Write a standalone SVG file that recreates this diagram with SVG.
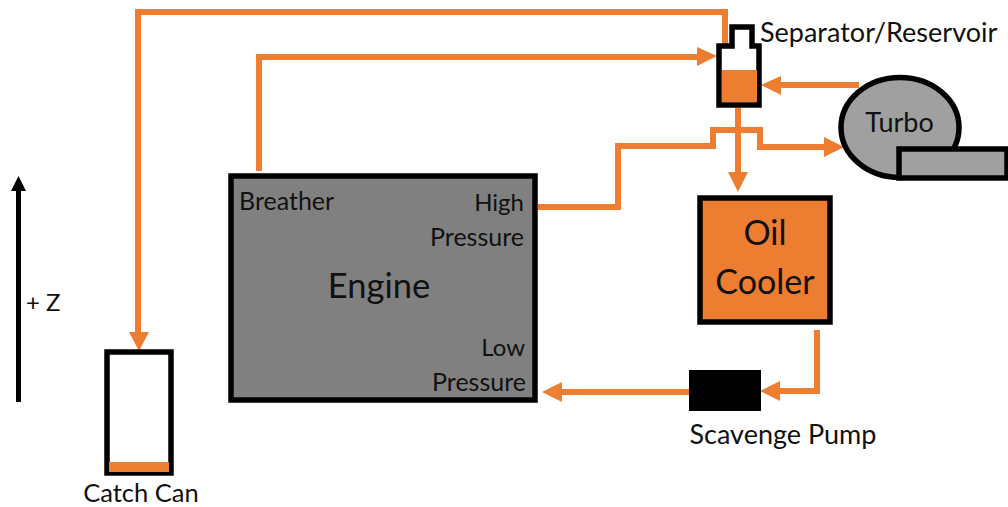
<svg xmlns="http://www.w3.org/2000/svg" width="1008" height="507" viewBox="0 0 1008 507">
<style>
text{font-family:Lato,"Open Sans",sans-serif;fill:#111}
.s{font-size:25px}
.n{font-size:24px}
.m{font-size:27px}
.c{fill:none;stroke:#ed7d31;stroke-width:6}
.h{fill:#ed7d31}
.b{stroke:#000;stroke-width:5.5}
</style>
<rect width="1008" height="507" fill="#fff"/>
<g id="connectors">
<path class="c" d="M725 44V12H138V333"/><polygon class="h" points="129,332 149,332 139,351"/>
<path class="c" d="M259 171V57H698"/><polygon class="h" points="697,47 717,56 697,66"/>
<path class="c" d="M859 85H780"/><polygon class="h" points="781,76 761,85 781,95"/>
<path class="c" d="M538 207H618V146H713V130H760V147H826"/><polygon class="h" points="824,137 844,147 824,157"/>
<path class="c" d="M738 108V174"/><polygon class="h" points="728,172 748,172 738,192"/>
<path class="c" d="M817 330V391H778"/><polygon class="h" points="780,381 760,391 780,401"/>
<path class="c" d="M689 392H560"/><polygon class="h" points="562,382 542,392 562,402"/>
</g>
<g id="separator">
<path d="M719 46H732V27H752V46H759V105H719Z" fill="#fff" class="b"/>
<rect x="722" y="70" width="35" height="32" class="h"/>
<text class="m" x="760" y="42">Separator/Reservoir</text>
</g>
<g id="turbo">
<ellipse cx="900" cy="127.500" rx="59" ry="50" fill="#a0a0a0" class="b"/>
<rect x="899" y="149" width="108" height="29" fill="#a0a0a0" class="b"/>
<text class="m" x="899.500" y="132" text-anchor="middle">Turbo</text>
</g>
<g id="oil-cooler">
<rect x="700" y="198" width="130" height="124" class="h b"/>
<text x="765" y="245" font-size="34" text-anchor="middle">Oil</text>
<text x="765" y="294" font-size="34" text-anchor="middle">Cooler</text>
</g>
<g id="scavenge-pump">
<rect x="689" y="370" width="72" height="41" fill="#000"/>
<text class="m" x="783" y="444" text-anchor="middle">Scavenge Pump</text>
</g>
<g id="engine">
<rect x="231" y="176" width="304" height="224" fill="#808080" class="b"/>
<text class="s" x="239" y="210">Breather</text>
<text class="n" x="524" y="211" text-anchor="end">High</text>
<text class="s" x="524" y="246" text-anchor="end">Pressure</text>
<text x="379" y="298" font-size="34.500" text-anchor="middle">Engine</text>
<text class="n" x="525" y="356" text-anchor="end">Low</text>
<text class="s" x="526" y="391" text-anchor="end">Pressure</text>
</g>
<g id="catch-can">
<rect x="107" y="352" width="64" height="121" fill="#fff" class="b"/>
<rect x="109" y="462" width="60" height="10" class="h"/>
<text x="141" y="501.500" font-size="25.500" text-anchor="middle">Catch Can</text>
</g>
<g id="z-axis">
<path d="M18.500 402V190" stroke="#000" stroke-width="5" fill="none"/>
<polygon points="11,191 26,191 18.500,176" fill="#000"/>
<text class="n" x="26" y="311">+ Z</text>
</g>
</svg>
